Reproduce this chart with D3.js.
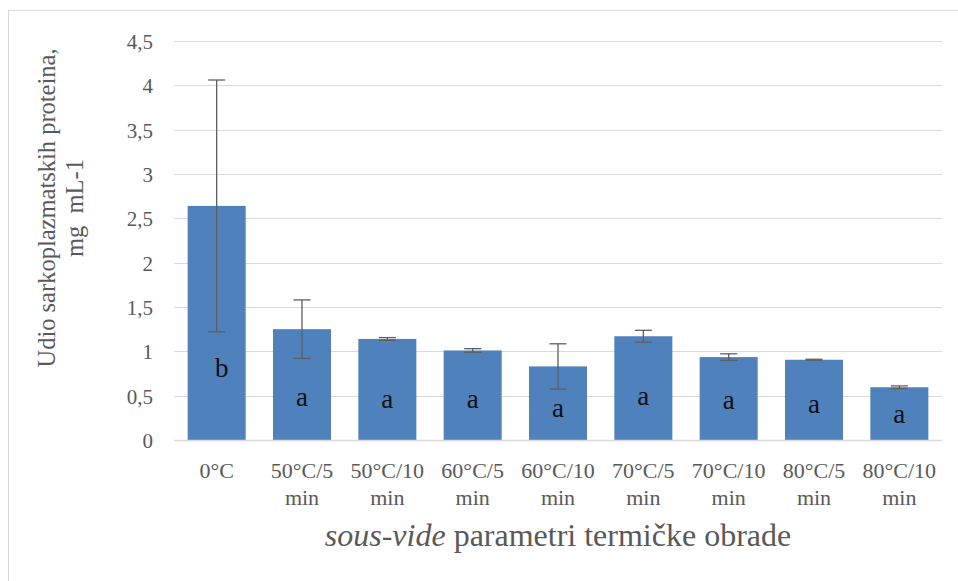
<!DOCTYPE html>
<html>
<head>
<meta charset="utf-8">
<script src="https://cdn.jsdelivr.net/npm/d3@7"></script>
<style>
  html, body { margin: 0; padding: 0; background: #fff; }
  svg { display: block; }
</style>
</head>
<body>
<svg id="chart" width="958" height="581" font-family="'Liberation Serif', 'DejaVu Serif', serif"></svg>
<script>
(function () {
// ---- data ----
const categories = ["0°C", "50°C/5 min", "50°C/10 min", "60°C/5 min", "60°C/10 min",
                    "70°C/5 min", "70°C/10 min", "80°C/5 min", "80°C/10 min"];
const tickLines = [["0°C"], ["50°C/5", "min"], ["50°C/10", "min"], ["60°C/5", "min"], ["60°C/10", "min"],
                   ["70°C/5", "min"], ["70°C/10", "min"], ["80°C/5", "min"], ["80°C/10", "min"]];
const values = [2.64, 1.25, 1.14, 1.01, 0.83, 1.17, 0.935, 0.905, 0.595];
const errors = [1.42, 0.33, 0.015, 0.02, 0.255, 0.067, 0.037, 0.006, 0.015];
const letters = ["b", "a", "a", "a", "a", "a", "a", "a", "a"];
const letterAt = [0.71, 0.38, 0.365, 0.365, 0.26, 0.395, 0.35, 0.30, 0.19];
const yTicks = [0, 0.5, 1, 1.5, 2, 2.5, 3, 3.5, 4, 4.5];
const yTitleLines = ["Udio sarkoplazmatskih proteina,", "mg\u00a0 mL-1"];
const xTitleItalic = "sous-vide";
const xTitleRest = " parametri termičke obrade";

// ---- layout ----
const svg = d3.select("#chart");
const pLeft = 174, pRight = 942, pTop = 41, pBottom = 440;
const textColor = "#595959";
const serif = "'Liberation Serif', 'Times New Roman', 'DejaVu Serif', serif";

// chart-area border
svg.append("rect").attr("x", 8.5).attr("y", 10.5).attr("width", 960).attr("height", 600)
  .attr("fill", "none").attr("stroke", "#D9D9D9").attr("stroke-width", 1);

const x = d3.scaleBand().domain(categories).range([pLeft, pRight]).paddingInner(0.32).paddingOuter(0.16);
const y = d3.scaleLinear().domain([0, 4.5]).range([pBottom, pTop]);
const fmt = v => String(v).replace(".", ",");

// gridlines
svg.append("g").selectAll("line").data(yTicks.filter(t => t > 0)).join("line")
  .attr("x1", pLeft).attr("x2", pRight)
  .attr("y1", d => Math.round(y(d)) + 0.5).attr("y2", d => Math.round(y(d)) + 0.5)
  .attr("stroke", "#D9D9D9").attr("stroke-width", 1.2);

// y tick labels
svg.append("g").selectAll("text").data(yTicks).join("text")
  .attr("x", 153).attr("y", d => y(d) + 1)
  .attr("text-anchor", "end").attr("dominant-baseline", "central")
  .attr("font-family", serif)
  .attr("font-size", 21).attr("fill", textColor)
  .text(d => fmt(d));

// bars
svg.append("g").selectAll("rect").data(values).join("rect")
  .attr("x", (d, i) => x(categories[i]))
  .attr("width", x.bandwidth())
  .attr("y", d => y(d))
  .attr("height", d => y(0) - y(d))
  .attr("fill", "#4F81BD");

// baseline axis
svg.append("line").attr("x1", pLeft).attr("x2", pRight)
  .attr("y1", y(0) + 0.5).attr("y2", y(0) + 0.5)
  .attr("stroke", "#D9D9D9").attr("stroke-width", 1.5);

// error bars
const eb = svg.append("g").attr("stroke", "#5f5f5f").attr("stroke-width", 1.3);
values.forEach((v, i) => {
  const cx = x(categories[i]) + x.bandwidth() / 2;
  const hi = y(v + errors[i]), lo = y(v - errors[i]);
  eb.append("line").attr("x1", cx).attr("x2", cx).attr("y1", hi).attr("y2", lo);
  eb.append("line").attr("x1", cx - 8.5).attr("x2", cx + 8.5).attr("y1", hi).attr("y2", hi);
  eb.append("line").attr("x1", cx - 8.5).attr("x2", cx + 8.5).attr("y1", lo).attr("y2", lo);
});

// significance letters
svg.append("g").selectAll("text").data(letters).join("text")
  .attr("x", (d, i) => x(categories[i]) + x.bandwidth() / 2 + (d === "b" ? 5 : 0))
  .attr("y", (d, i) => y(letterAt[i]))
  .attr("text-anchor", "middle")
  .attr("font-family", serif)
  .attr("font-size", 27).attr("fill", "#111")
  .text(d => d);

// x tick labels
const xl = svg.append("g");
tickLines.forEach((lines, i) => {
  const cx = x(categories[i]) + x.bandwidth() / 2;
  const t = xl.append("text").attr("x", cx).attr("y", 478)
    .attr("text-anchor", "middle").attr("font-family", serif)
    .attr("font-size", 22).attr("fill", textColor);
  lines.forEach((ln, j) => {
    t.append("tspan").attr("x", cx).attr("dy", j === 0 ? 0 : 27).text(ln);
  });
});

// y axis title
const yt = svg.append("text")
  .attr("transform", "translate(55,208) rotate(-90)")
  .attr("text-anchor", "middle").attr("font-family", serif)
  .attr("font-size", 24.5).attr("fill", textColor);
yTitleLines.forEach((ln, j) => {
  yt.append("tspan").attr("x", 0).attr("dy", j === 0 ? 0 : 28).text(ln);
});

// x axis title
const xt = svg.append("text").attr("x", 558).attr("y", 546)
  .attr("text-anchor", "middle").attr("font-family", serif)
  .attr("font-size", 32).attr("fill", textColor);
xt.append("tspan").attr("font-style", "italic").text(xTitleItalic);
xt.append("tspan").text(xTitleRest);
})();
</script>
</body>
</html>
